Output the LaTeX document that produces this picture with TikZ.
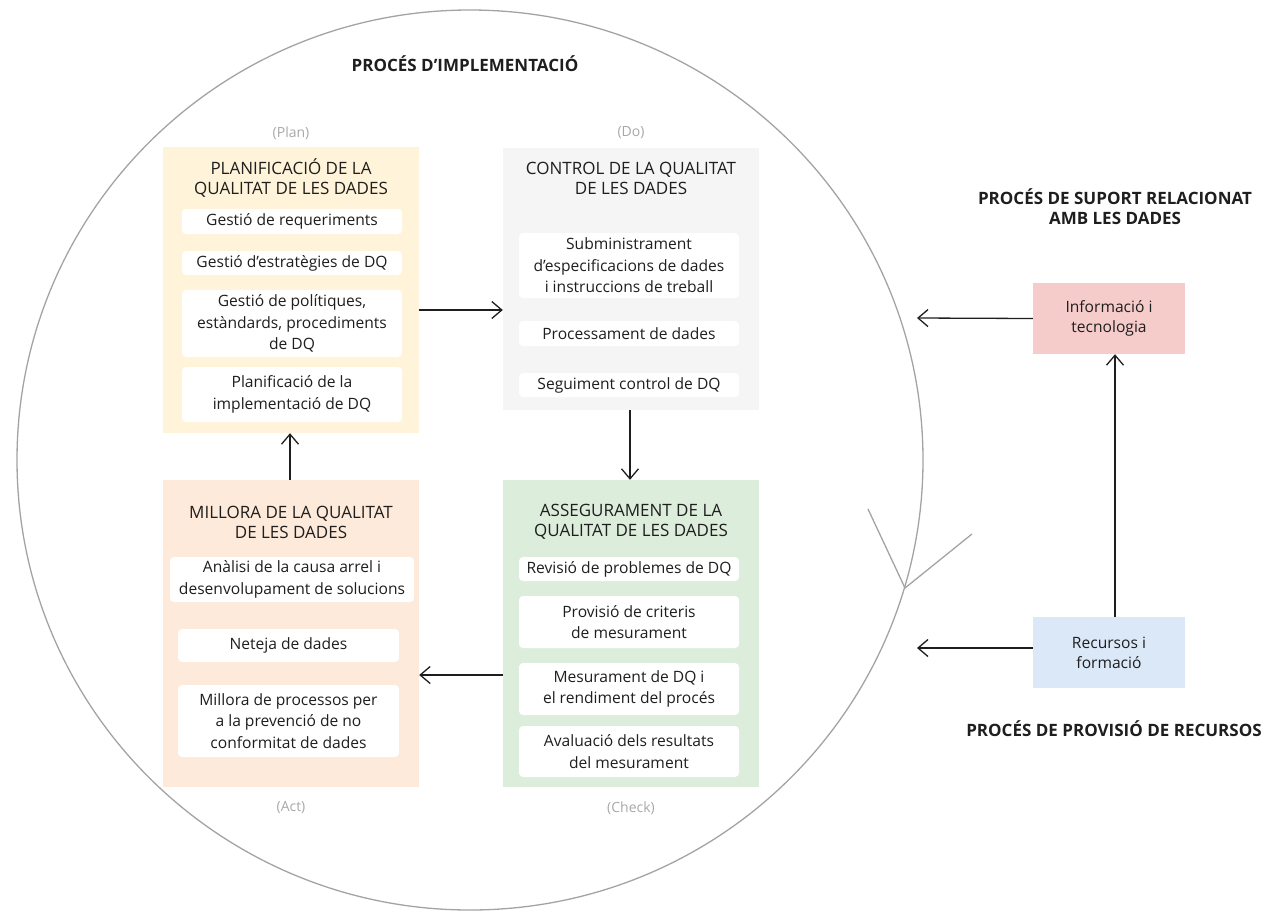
\documentclass[tikz,border=0pt]{standalone}
\usepackage{fontspec}
\setmainfont{Open Sans}
\usetikzlibrary{arrows.meta}

\definecolor{ink}{HTML}{1E1E1E}
\definecolor{ringgray}{HTML}{A3A3A3}
\definecolor{labelgray}{HTML}{A8A8A8}
\definecolor{planfill}{HTML}{FFF4D9}
\definecolor{dofill}{HTML}{F5F5F5}
\definecolor{actfill}{HTML}{FDEADA}
\definecolor{checkfill}{HTML}{DDEDDB}
\definecolor{infofill}{HTML}{F6CCCB}
\definecolor{resfill}{HTML}{DBE8F8}

\begin{document}
\begin{tikzpicture}[x=1pt,y=-1pt,
  panel/.style={minimum width=256pt, inner sep=0pt, draw=none},
  item/.style={fill=white, rounded corners=4pt, align=center, inner sep=0pt,
    text=ink, font=\fontsize{15.6}{21.5}\selectfont},
  paneltitle/.style={align=center, text=ink, font=\fontsize{17}{20}\selectfont},
  phase/.style={text=labelgray, font=\fontsize{14}{16}\selectfont},
  heading/.style={align=center, text=ink, font=\bfseries\fontsize{17}{20}\selectfont},
  sidebox/.style={minimum width=152pt, minimum height=71pt, inner sep=0pt,
    align=center, text=ink, font=\fontsize{15.6}{20}\selectfont},
  arr/.style={draw=ink, line width=1.3pt, -{Straight Barb[length=10pt,width=17pt,line width=1.3pt]}},
  ring/.style={draw=ringgray, line width=1.3pt}
]
\useasboundingbox (0,0) rectangle (1269,911);

% implementation cycle
\draw[ring] (470,460) ellipse [x radius=453, y radius=450];
\coordinate (tip) at (905,588);
\draw[ring] (868,509) -- (tip) -- (972,534);

\node[heading] (impl) at (465,64) {PROCÉS D’IMPLEMENTACIÓ};

% phase panels
\node[panel, fill=planfill, minimum height=286pt] (plan) at (291,290) {};
\node[panel, fill=dofill, minimum height=262pt] (do) at (631,279) {};
\node[panel, fill=actfill, minimum height=307pt] (act) at (291,633.5) {};
\node[panel, fill=checkfill, minimum height=307pt] (check) at (631,633.5) {};

\node[phase] (lplan) at (291,133) {(Plan)};
\node[phase] (ldo) at (631,133) {(Do)};
\node[phase] (lact) at (291,808) {(Act)};
\node[phase] (lcheck) at (631,808) {(Check)};

% Plan
\node[paneltitle] (tplan) at (291,178) {PLANIFICACIÓ DE LA\\QUALITAT DE LES DADES};
\node[item, minimum width=220pt, minimum height=25pt] (p1) at (292,221.5) {Gestió de requeriments};
\node[item, minimum width=220pt, minimum height=24pt] (p2) at (292,263) {Gestió d’estratègies de DQ};
\node[item, minimum width=220pt, minimum height=67pt] (p3) at (292,323.5) {Gestió de polítiques,\\estàndards, procediments\\de DQ};
\node[item, minimum width=220pt, minimum height=55pt] (p4) at (292,394.5) {Planificació de la\\implementació de DQ};

% Do
\node[paneltitle] (tdo) at (631,178) {CONTROL DE LA QUALITAT\\DE LES DADES};
\node[item, minimum width=220pt, minimum height=65pt] (d1) at (629,265.5) {Subministrament\\d’especificacions de dades\\i instruccions de treball};
\node[item, minimum width=220pt, minimum height=25pt] (d2) at (629,333.5) {Processament de dades};
\node[item, minimum width=220pt, minimum height=24pt] (d3) at (629,385) {Seguiment control de DQ};

% Act
\node[paneltitle] (tact) at (291,522) {MILLORA DE LA QUALITAT\\DE LES DADES};
\node[item, minimum width=244pt, minimum height=45pt] (a1) at (292,579.5) {Anàlisi de la causa arrel i\\desenvolupament de solucions};
\node[item, minimum width=221pt, minimum height=33pt] (a2) at (288.5,645.5) {Neteja de dades};
\node[item, minimum width=221pt, minimum height=72pt] (a3) at (288.5,721) {Millora de processos per\\a la prevenció de no\\conformitat de dades};

% Check
\node[paneltitle] (tcheck) at (631,522) {ASSEGURAMENT DE LA\\QUALITAT DE LES DADES};
\node[item, minimum width=220pt, minimum height=24pt] (c1) at (629,569) {Revisió de problemes de DQ};
\node[item, minimum width=220pt, minimum height=52pt] (c2) at (629,622) {Provisió de criteris\\de mesurament};
\node[item, minimum width=220pt, minimum height=52pt] (c3) at (629,689) {Mesurament de DQ i\\el rendiment del procés};
\node[item, minimum width=220pt, minimum height=51pt] (c4) at (629,751.5) {Avaluació dels resultats\\del mesurament};

% cycle arrows
\draw[arr] (plan.east |- 0,310) -- (do.west |- 0,310);
\draw[arr] (do.south -| 630,0) -- (check.north -| 630,0);
\draw[arr] (check.west |- 0,675) -- (act.east |- 0,675);
\draw[arr] (act.north -| 290,0) -- (plan.south -| 290,0);

% supporting processes
\node[heading] (hsup) at (1115,207) {PROCÉS DE SUPORT RELACIONAT\\AMB LES DADES};
\node[heading] (hres) at (1114,729) {PROCÉS DE PROVISIÓ DE RECURSOS};

\node[sidebox, fill=infofill] (info) at (1109,318.5) {Informació i\\tecnologia};
\node[sidebox, fill=resfill] (res) at (1109,652.5) {Recursos i\\formació};

\coordinate (infoend) at (917,318);
\coordinate (resend) at (917,648);
\coordinate (upx) at (1115,0);
\draw[arr] (info.west) -- (infoend);
\draw[arr] (res.west |- resend) -- (resend);
\draw[arr] (res.north -| upx) -- (info.south -| upx);
\end{tikzpicture}
\end{document}
